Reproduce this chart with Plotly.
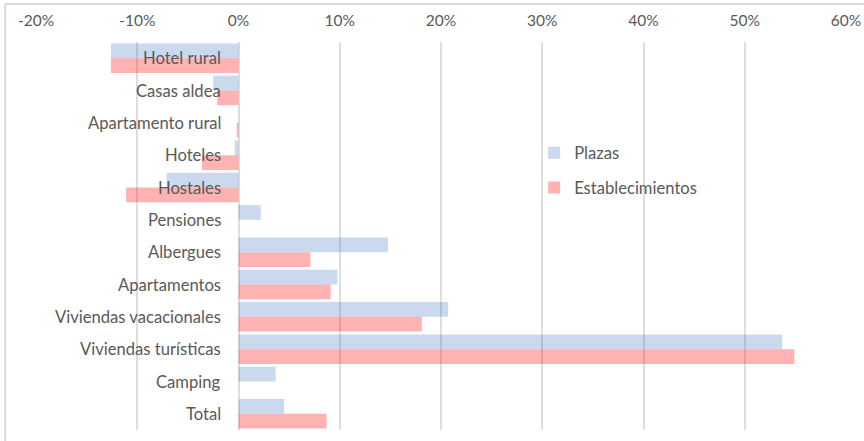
import plotly.graph_objects as go

categories = ["Hotel rural", "Casas aldea", "Apartamento rural", "Hoteles", "Hostales",
              "Pensiones", "Albergues", "Apartamentos", "Viviendas vacacionales",
              "Viviendas turísticas", "Camping", "Total"]
plazas = [-0.126, -0.025, 0.0, -0.0037, -0.071, 0.022, 0.1475, 0.0977, 0.207, 0.537, 0.0366, 0.045]
establecimientos = [-0.126, -0.021, -0.0017, -0.036, -0.111, 0.0, 0.071, 0.091, 0.181, 0.549, 0.0, 0.087]
tick_vals = [-0.2, -0.1, 0, 0.1, 0.2, 0.3, 0.4, 0.5, 0.6]
tick_text = ["-20%", "-10%", "0%", "10%", "20%", "30%", "40%", "50%", "60%"]

FONT = "Lato, 'Open Sans', sans-serif"
fig = go.Figure()
fig.add_trace(go.Bar(y=categories, x=plazas, orientation="h", name="Plazas",
                     marker=dict(color="rgba(52,110,190,0.26)", line=dict(width=0)),
                     legendgroup="a"))
fig.add_trace(go.Bar(y=categories, x=establecimientos, orientation="h", name="Establecimientos",
                     marker=dict(color="rgba(255,0,0,0.30)", line=dict(width=0)),
                     legendgroup="b"))

for c in categories:
    fig.add_annotation(x=0, y=c, xref="x", yref="y", text=c, showarrow=False,
                       xanchor="right", yanchor="middle", xshift=-16,
                       font=dict(family=FONT, size=16.6, color="#595959"))

fig.update_layout(
    width=864, height=441,
    margin=dict(l=36, r=18, t=42, b=11, autoexpand=False),
    paper_bgcolor="white", plot_bgcolor="white",
    barmode="group", bargap=0.09, bargroupgap=0,
    font=dict(family=FONT, color="#595959"),
    showlegend=True,
    legend=dict(x=0.615, y=0.759, xanchor="left", yanchor="top",
                font=dict(family=FONT, size=16.6, color="#595959"),
                tracegroupgap=10, traceorder="grouped", itemwidth=30,
                bgcolor="rgba(0,0,0,0)"),
    xaxis=dict(side="top", range=[-0.2, 0.6], tickvals=tick_vals, ticktext=tick_text,
               showgrid=True, gridcolor="#dedede", gridwidth=2,
               zeroline=True, zerolinecolor="#dedede", zerolinewidth=2,
               showline=False, ticks="", ticklabelstandoff=12, automargin=False,
               tickfont=dict(family=FONT, size=15.5, color="#595959")),
    yaxis=dict(autorange="reversed", showticklabels=False, showgrid=False,
               zeroline=False, showline=False, ticks="", automargin=False),
    shapes=[
        dict(type="line", xref="paper", yref="paper", x0=-0.038, x1=1.1, y0=1.098, y1=1.098,
             line=dict(color="#d9d9d9", width=2)),
        dict(type="line", xref="paper", yref="paper", x0=-0.038, x1=-0.038, y0=1.098, y1=-0.1,
             line=dict(color="#d9d9d9", width=2)),
    ],
)
fig.write_html("out.html", config={"displayModeBar": False},
               post_script="document.body.style.margin='0';")
